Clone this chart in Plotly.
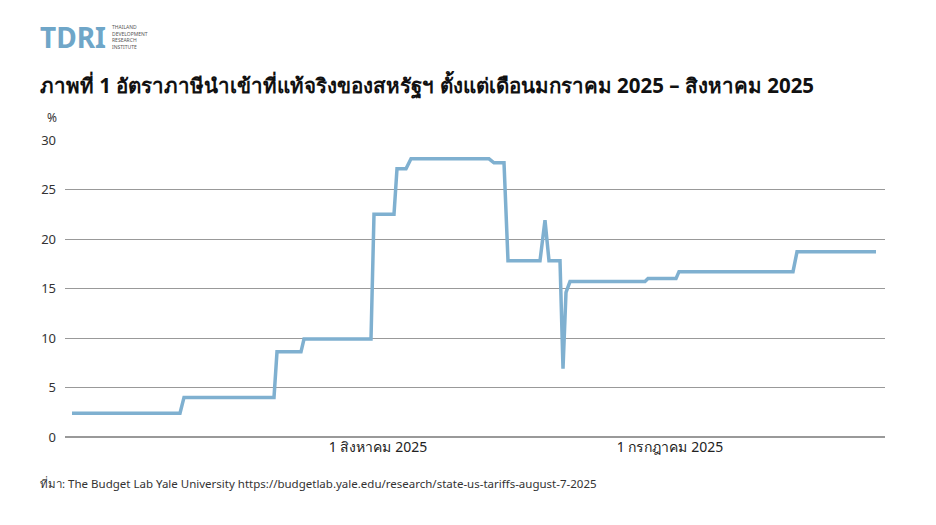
import plotly.graph_objects as go

days = [0,54,56,101,102.5,114.5,116,149.5,151,161,162.5,167,169.5,208.5,211,216,218,234,236.5,238.5,244,245.5,247,249,286.5,288,302,303.5,360.5,362.5,402]
rate = [2.4,2.4,4.0,4.0,8.6,8.6,9.9,9.9,22.5,22.5,27.1,27.1,28.1,28.1,27.7,27.7,17.8,17.8,21.9,17.8,17.8,6.9,14.6,15.7,15.7,16.0,16.0,16.7,16.7,18.7,18.7]
tick_vals = [153, 299]
tick_text = ["1 สิงหาคม 2025", "1 กรกฎาคม 2025"]
y_ticks = [0,5,10,15,20,25,30]

F = "Noto Sans, sans-serif"
W, H = 936, 525
L, R, T, B = 57, 59, 132, 96
PW, PH = W - L - R, H - T - B

def px(x): return (x - 8 - L) / PW
def py(y): return (H - B - (y - 8)) / PH

def ann(text, x, y, size, color, xanchor="left", **kw):
    return dict(text=text, x=px(x), y=py(y), xref="paper", yref="paper", showarrow=False,
                font=dict(size=size, color=color, family=F), xanchor=xanchor, yanchor="middle", **kw)

fig = go.Figure(go.Scatter(x=days, y=rate, mode="lines",
                           line=dict(color="#7fb0d0", width=3.5), hoverinfo="skip"))
fig.update_layout(
    width=W, height=H, paper_bgcolor="white", plot_bgcolor="white",
    margin=dict(l=L, r=R, t=T, b=B), showlegend=False,
    font=dict(family=F, color="#222", size=13),
    xaxis=dict(range=[-3.5, 406.5], tickvals=tick_vals, ticktext=tick_text,
               showgrid=False, zeroline=False, showline=False, ticks="",
               tickfont=dict(size=14, color="#222")),
    yaxis=dict(range=[0, 30], tickvals=y_ticks, showgrid=True, gridcolor="#999999",
               gridwidth=1, zeroline=True, zerolinecolor="#999999", showline=False,
               ticks="", tickfont=dict(size=13, color="#333"), ticklabelstandoff=8),
    annotations=[
        ann("<b>TDRI</b>", 38, 37, 28, "#6fa6c8"),
        ann("THAILAND<br>DEVELOPMENT<br>RESEARCH<br>INSTITUTE", 110, 37, 5, "#555", align="left"),
        ann("<b>ภาพที่ 1 อัตราภาษีนำเข้าที่แท้จริงของสหรัฐฯ ตั้งแต่เดือนมกราคม 2025 – สิงหาคม 2025</b>",
            38, 85, 20.5, "#111"),
        ann("%", 52, 117, 12, "#333", xanchor="center"),
        ann("ที่มา: The Budget Lab Yale University https://budgetlab.yale.edu/research/state-us-tariffs-august-7-2025",
            38, 483, 11.5, "#333"),
    ],
)
fig.write_html("out.html")
